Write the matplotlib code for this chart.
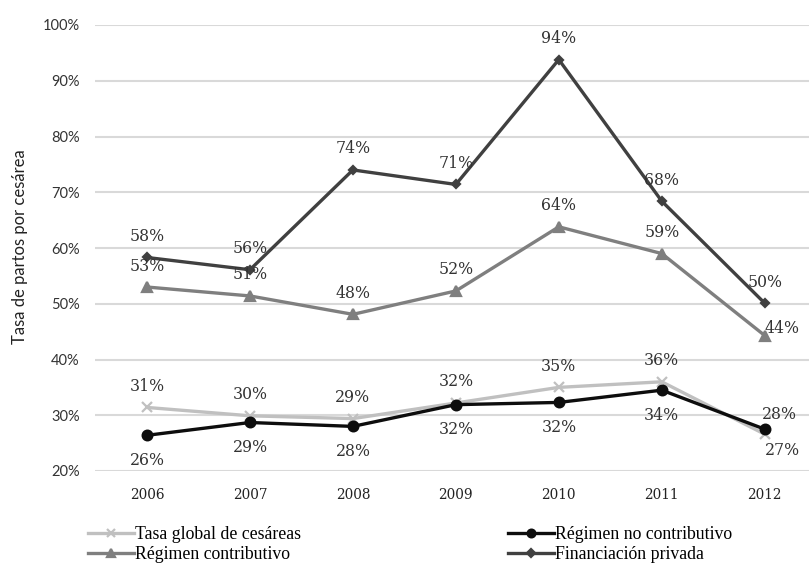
import matplotlib
matplotlib.use("Agg")
import matplotlib.pyplot as plt
from matplotlib.ticker import FuncFormatter

years = ["2006", "2007", "2008", "2009", "2010", "2011", "2012"]
tasa_global = [31.4, 29.9, 29.4, 32.2, 35.0, 36.0, 26.6]
contributivo = [53.0, 51.4, 48.1, 52.3, 63.8, 59.0, 44.3]
no_contributivo = [26.4, 28.7, 28.0, 31.9, 32.3, 34.5, 27.5]
privada = [58.3, 56.1, 74.0, 71.4, 93.8, 68.4, 50.1]

# (dx, dy) offsets in pixels for the value labels of each series
above = (0, 21)
below = (0, -25)
off_tasa = [above] * 6 + [(18, -16)]
off_contrib = [above] * 6 + [(17, 7)]
off_nocontrib = [below] * 6 + [(15, 15)]
off_privada = [above] * 7

serif = "DejaVu Serif"
sans = "Lato"

fig = plt.figure(figsize=(8.09, 5.65), dpi=100)
ax = fig.add_axes([95 / 809, 1 - 471 / 565, (809 - 95) / 809, (471 - 25) / 565])

x = range(len(years))
series = [
    (tasa_global, "Tasa global de cesáreas", "#c0c0c0", "x", 7, off_tasa),
    (contributivo, "Régimen contributivo", "#7f7f7f", "^", 7, off_contrib),
    (no_contributivo, "Régimen no contributivo", "#0d0d0d", "o", 7, off_nocontrib),
    (privada, "Financiación privada", "#404040", "D", 4.5, off_privada),
]

handles = []
for vals, name, col, mk, ms, offs in series:
    h, = ax.plot(x, vals, color=col, lw=2.4, marker=mk, ms=ms,
                 mew=1.6, label=name, solid_joinstyle="round")
    handles.append(h)
    for i, v in enumerate(vals):
        ax.annotate(f"{v:.0f}%", (i, v), xytext=offs[i],
                    textcoords="offset pixels", ha="center", va="center",
                    fontsize=11.3, family=serif, color="#333333")

ax.set_xlim(-0.505, 6.43)
ax.set_ylim(20, 100)
ax.set_yticks(range(20, 101, 10))
ax.yaxis.set_major_formatter(FuncFormatter(lambda v, p: f"{v:.0f}%"))
ax.set_xticks(list(x))
ax.set_xticklabels(years, family=serif, fontsize=9.8, color="#222222")
for t in ax.get_yticklabels():
    t.set_family(sans)
    t.set_fontsize(10.5)
    t.set_color("#333333")
ax.tick_params(axis="both", length=0)
ax.tick_params(axis="y", pad=11)
ax.tick_params(axis="x", pad=12)
ax.grid(axis="y", color="#d9d9d9", lw=1.5)
ax.set_axisbelow(True)
for s in ax.spines.values():
    s.set_visible(False)

fig.text(20 / 809, 1 - 247 / 565, "Tasa de partos por cesárea", rotation=90,
         ha="center", va="center", family=sans, fontsize=12, color="#222222")

leg_kw = dict(frameon=False, ncol=1, prop={"family": "Liberation Serif", "size": 12.8},
              handlelength=2.6, handletextpad=0.05, labelspacing=0.18,
              borderaxespad=0, borderpad=0, markerscale=0.8)
fig.legend([handles[0], handles[1]], [h.get_label() for h in handles[:2]],
           loc="upper left", bbox_to_anchor=(88 / 809, 1 - 526 / 565), **leg_kw)
fig.legend([handles[2], handles[3]], [h.get_label() for h in handles[2:]],
           loc="upper left", bbox_to_anchor=(508 / 809, 1 - 526 / 565), **leg_kw)

fig.savefig("out.png", dpi=100)
